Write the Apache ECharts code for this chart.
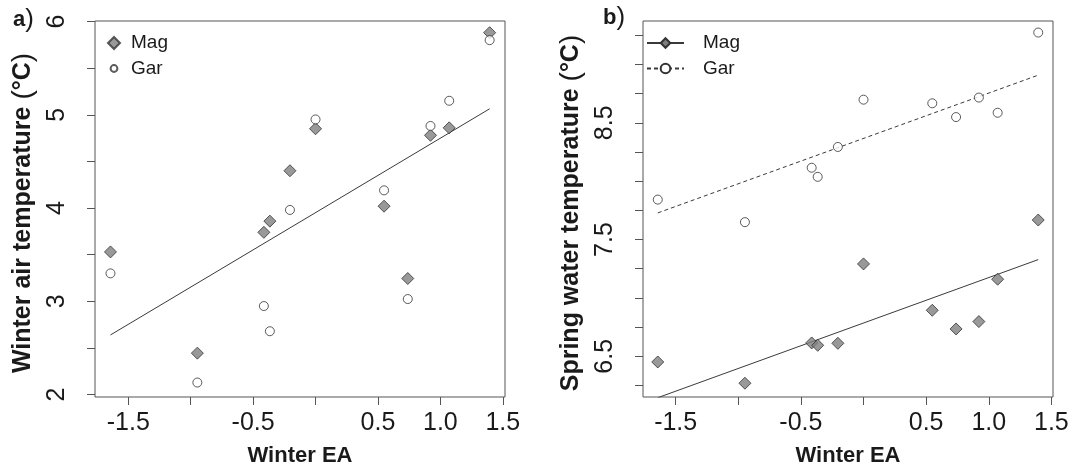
<!DOCTYPE html>
<html>
<head>
<meta charset="utf-8">
<script src="https://cdn.jsdelivr.net/npm/echarts@6/dist/echarts.min.js"></script>
<style>
html,body{margin:0;padding:0;background:#ffffff;}
#chart{width:1074px;height:472px;}
</style>
</head>
<body>
<div id="chart"></div>
<script>
// ---- data ----
const winterEA   = [-1.643, -0.947, -0.414, -0.366, -0.205, 0.0, 0.549, 0.739, 0.921, 1.071, 1.395];
const airMag     = [3.53, 2.445, 3.74, 3.86, 4.40, 4.85, 4.02, 3.245, 4.78, 4.86, 5.88];
const airGar     = [3.30, 2.13, 2.95, 2.68, 3.98, 4.95, 4.19, 3.025, 4.88, 5.15, 5.80];
const waterMag   = [6.451, 6.269, 6.614, 6.594, 6.611, 7.291, 6.894, 6.734, 6.797, 7.16, 7.667];
const waterGar   = [7.842, 7.649, 8.115, 8.037, 8.293, 8.698, 8.667, 8.549, 8.716, 8.586, 9.273];
// fitted lines (end points)
const fitX          = [-1.643, 1.395];
const airFitY       = [2.64, 5.064];
const waterMagFitY  = [6.145, 7.328];
const waterGarFitY  = [7.728, 8.908];
// ticks
const xTicks          = [-1.5, -1, -0.5, 0, 0.5, 1, 1.5];
const xTickLabels     = [-1.5, -0.5, 0.5, 1.0, 1.5];
const airTicks        = [2, 2.5, 3, 3.5, 4, 4.5, 5, 5.5, 6];
const airTickLabels   = [2, 3, 4, 5, 6];
const waterTicks      = [6.25, 6.5, 6.75, 7, 7.25, 7.5, 7.75, 8, 8.25, 8.5, 8.75, 9, 9.25];
const waterTickLabels = [6.5, 7.5, 8.5];
const seriesNames     = ['Mag', 'Gar'];

// ---- helpers ----
const zip = (xs, ys) => xs.map((x, i) => [x, ys[i]]);
const AX = '#555555';
const TXT = '#1a1a1a';
const FONT = 'Liberation Sans, Arial, Helvetica, sans-serif';

function xAxisCfg(gridIndex, min, max) {
  return {
    type: 'value', gridIndex, min, max,
    name: 'Winter EA', nameLocation: 'middle', nameGap: 48,
    nameTextStyle: {fontFamily: FONT, fontWeight: 'bold', fontSize: 22, color: TXT},
    axisLine: {show: false, onZero: false},
    axisTick: {show: true, inside: false, length: 8, lineStyle: {color: AX, width: 1}, customValues: xTicks},
    axisLabel: {show: true, margin: 14, fontFamily: FONT, fontSize: 25, color: TXT,
      customValues: xTickLabels, formatter: v => Number(v).toFixed(1)},
    splitLine: {show: false}
  };
}
function yAxisCfg(gridIndex, min, max, title, ticks, labels, dec) {
  return {
    type: 'value', gridIndex, min, max,
    name: '{b|' + title + ' }{p|(}{b|°C}{p|)}{s| }', nameLocation: 'middle', nameGap: 58, nameRotate: 90,
    nameTextStyle: {
      fontFamily: FONT, color: TXT,
      rich: {
        b: {fontFamily: FONT, fontWeight: 'bold', fontSize: 25, color: TXT},
        p: {fontFamily: FONT, fontWeight: 'normal', fontSize: 28, color: TXT},
        s: {fontFamily: FONT, fontSize: 10, width: 8, color: 'rgba(0,0,0,0)'}
      }
    },
    axisLine: {show: false, onZero: false},
    axisTick: {show: true, inside: false, length: 8, lineStyle: {color: AX, width: 1}, customValues: ticks},
    axisLabel: {show: true, rotate: 90, margin: 25, fontFamily: FONT, fontSize: 25, color: TXT,
      customValues: labels, formatter: v => Number(v).toFixed(dec)},
    splitLine: {show: false}
  };
}

const magItem = {color: '#7f7f7f', borderColor: '#333333', borderWidth: 1};
const garItem = {color: '#ffffff', borderColor: '#333333', borderWidth: 1};
const fitLine = {color: '#3a3a3a', width: 1};
// small circle icon padded inside a larger box (for the legend of panel a)
const smallCircleIcon = 'path://M0,0M12,12M2.6,6a3.4,3.4 0 1,0 6.8,0a3.4,3.4 0 1,0 -6.8,0Z';

const option = {
  animation: false,
  backgroundColor: '#ffffff',
  textStyle: {fontFamily: FONT},
  grid: [
    {left: 95, top: 21, width: 410, height: 376, show: true, borderColor: AX, borderWidth: 1, backgroundColor: 'transparent'},
    {left: 643, top: 21, width: 410, height: 376, show: true, borderColor: AX, borderWidth: 1, backgroundColor: 'transparent'}
  ],
  xAxis: [
    xAxisCfg(0, -1.767, 1.518),
    xAxisCfg(1, -1.761, 1.513)
  ],
  yAxis: [
    yAxisCfg(0, 1.975, 6.005, 'Winter air temperature', airTicks, airTickLabels, 0),
    yAxisCfg(1, 6.151, 9.372, 'Spring water temperature', waterTicks, waterTickLabels, 1)
  ],
  legend: [
    {
      orient: 'vertical', left: 107, top: 33, padding: 0, itemWidth: 12, itemHeight: 12, itemGap: 5.5,
      data: [{name: seriesNames[0]}, {name: seriesNames[1], icon: smallCircleIcon}],
      textStyle: {fontFamily: FONT, fontSize: 19, color: TXT, lineHeight: 20, padding: [0, 0, 0, 6]},
      selectedMode: false
    },
    {
      orient: 'vertical', left: 646, top: 33, padding: 0, itemWidth: 37, itemHeight: 12, itemGap: 5.5,
      data: [seriesNames[0] + ' ', seriesNames[1] + ' '],
      formatter: n => n.trim(),
      textStyle: {fontFamily: FONT, fontSize: 19, color: TXT, lineHeight: 20, padding: [0, 0, 0, 14]},
      selectedMode: false
    }
  ],
  graphic: [
    {type: 'text', left: 13, top: 7, style: {
      text: '{b|a}{p|)}',
      rich: {b: {fontFamily: FONT, fontWeight: 'bold', fontSize: 22, fill: TXT}, p: {fontFamily: FONT, fontSize: 26, fill: TXT}}
    }},
    {type: 'text', left: 603, top: 5, style: {
      text: '{b|b}{p|)}',
      rich: {b: {fontFamily: FONT, fontWeight: 'bold', fontSize: 22, fill: TXT}, p: {fontFamily: FONT, fontSize: 26, fill: TXT}}
    }}
  ],
  series: [
    // panel a
    {type: 'line', name: 'fitA', xAxisIndex: 0, yAxisIndex: 0, data: zip(fitX, airFitY),
      symbol: 'none', lineStyle: fitLine, silent: true, z: 1},
    {type: 'scatter', name: seriesNames[0], xAxisIndex: 0, yAxisIndex: 0, data: zip(winterEA, airMag),
      symbol: 'diamond', symbolSize: 12, itemStyle: magItem, z: 3},
    {type: 'scatter', name: seriesNames[1], xAxisIndex: 0, yAxisIndex: 0, data: zip(winterEA, airGar),
      symbol: 'circle', symbolSize: 9, itemStyle: garItem, z: 3},
    // panel b: fitted lines (also carry legend icons)
    {type: 'line', name: seriesNames[0] + ' ', xAxisIndex: 1, yAxisIndex: 1, data: zip(fitX, waterMagFitY),
      symbol: 'diamond', symbolSize: 10, showSymbol: false, itemStyle: magItem, lineStyle: fitLine, silent: true, z: 1, clip: true},
    {type: 'line', name: seriesNames[1] + ' ', xAxisIndex: 1, yAxisIndex: 1, data: zip(fitX, waterGarFitY),
      symbol: 'circle', symbolSize: 9, showSymbol: false, itemStyle: garItem,
      lineStyle: {color: '#3a3a3a', width: 1, type: [4, 3]}, silent: true, z: 1, clip: true},
    {type: 'scatter', name: 'MagB', xAxisIndex: 1, yAxisIndex: 1, data: zip(winterEA, waterMag),
      symbol: 'diamond', symbolSize: 12, itemStyle: magItem, z: 3},
    {type: 'scatter', name: 'GarB', xAxisIndex: 1, yAxisIndex: 1, data: zip(winterEA, waterGar),
      symbol: 'circle', symbolSize: 9, itemStyle: garItem, z: 3}
  ]
};

const chart = echarts.init(document.getElementById('chart'), null, {renderer: 'canvas'});
chart.setOption(option);
</script>
</body>
</html>
